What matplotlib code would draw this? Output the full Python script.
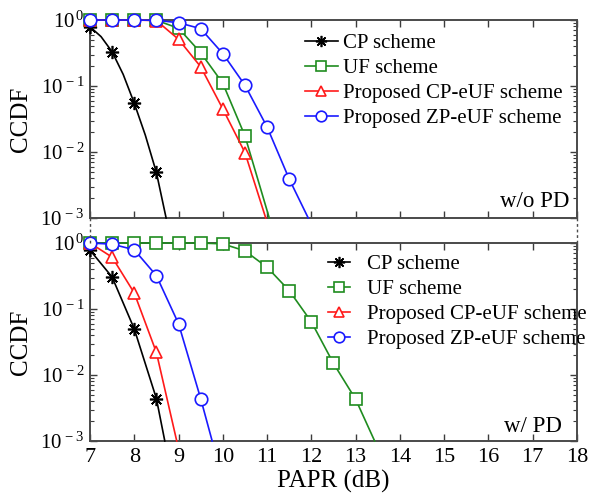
import math
import matplotlib
matplotlib.use("Agg")
import matplotlib.pyplot as plt
from matplotlib.ticker import FixedLocator, LogLocator, NullFormatter, FuncFormatter
from matplotlib.lines import Line2D

plt.rcParams['font.family'] = ['Liberation Serif', 'DejaVu Serif']
plt.rcParams['mathtext.fontset'] = 'custom'
plt.rcParams['mathtext.rm'] = 'Liberation Serif'
plt.rcParams['mathtext.it'] = 'Liberation Serif:italic'

labels = ['CP scheme', 'UF scheme', 'Proposed CP-eUF scheme', 'Proposed ZP-eUF scheme']
colors = ['black', '#1f8c1f', '#ff1a1a', '#1a1aff']
markers = [(8, 2, 0), 's', '^', 'o']

# w/o PD  (last point of each list = where the curve leaves the plot at 1e-3)
cp_x_wo = [7.0, 7.25, 7.5, 7.75, 8.0, 8.25, 8.5, 8.72]
cp_y_wo = [0.79, 0.56, 0.33, 0.15, 0.055, 0.018, 0.0049, 0.001]
cp_mk_wo = [0, 2, 4, 6]
uf_x_wo = [7.0, 7.5, 8.0, 8.5, 9.0, 9.5, 10.0, 10.5, 11.05]
uf_y_wo = [1.0, 1.0, 1.0, 0.99, 0.75, 0.32, 0.11, 0.0176, 0.001]
cpe_x_wo = [7.0, 7.5, 8.0, 8.5, 9.0, 9.5, 10.0, 10.5, 10.97]
cpe_y_wo = [1.0, 1.0, 1.0, 0.98, 0.51, 0.196, 0.045, 0.0098, 0.001]
zpe_x_wo = [7.0, 7.5, 8.0, 8.5, 9.0, 9.5, 10.0, 10.5, 11.0, 11.5, 11.93]
zpe_y_wo = [1.0, 1.0, 1.0, 0.99, 0.91, 0.74, 0.31, 0.103, 0.024, 0.0039, 0.001]

# w/ PD
cp_x_w = [7.0, 7.5, 8.0, 8.5, 8.69]
cp_y_w = [0.78, 0.305, 0.05, 0.0044, 0.001]
uf_x_w = [7.0, 7.5, 8.0, 8.5, 9.0, 9.5, 10.0, 10.5, 11.0, 11.5, 12.0, 12.5, 13.0, 13.43]
uf_y_w = [1.0, 1.0, 1.0, 1.0, 1.0, 1.0, 0.97, 0.76, 0.43, 0.19, 0.064, 0.015, 0.0043, 0.001]
cpe_x_w = [7.0, 7.5, 8.0, 8.5, 8.96]
cpe_y_w = [1.0, 0.61, 0.175, 0.022, 0.001]
zpe_x_w = [7.0, 7.5, 8.0, 8.5, 9.0, 9.5, 9.76]
zpe_y_w = [1.0, 0.96, 0.79, 0.32, 0.06, 0.0044, 0.001]

xticks = list(range(7, 19))


def draw_panel(ax, series, tag, tag_pos, legend_anchor, handlelen, textpad):
    for (x, y, mk_idx), lab, c, m in zip(series, labels, colors, markers):
        if mk_idx is None:
            mk_idx = list(range(len(x) - 1))
        star = m == (8, 2, 0)
        ax.plot(x, y, color=c, lw=1.2, marker=m, markevery=mk_idx,
                ms=9.5 if star else 9, mfc=c if star else 'white',
                mec=c, mew=1.2, label=lab, clip_on=False, zorder=3)
    ax.set_yscale('log')
    ax.set_xlim(7, 18)
    ax.set_ylim(1e-3, 1)
    ax.xaxis.set_major_locator(FixedLocator(xticks))
    ax.yaxis.set_major_locator(FixedLocator([1e-3, 1e-2, 1e-1, 1]))
    ax.yaxis.set_minor_locator(LogLocator(base=10, subs=range(2, 10)))
    ax.yaxis.set_minor_formatter(NullFormatter())
    ax.yaxis.set_major_formatter(FuncFormatter(
        lambda v, p: r'$\mathdefault{10^{\,%d}}$' % round(math.log10(v))))
    ax.tick_params(which='both', direction='in', top=True, right=True, color='#3c3c3c')
    ax.tick_params(axis='x', labelsize=16, pad=5)
    ax.tick_params(axis='y', labelsize=15, pad=4)
    ax.tick_params(which='major', length=5, width=1.0)
    ax.tick_params(which='minor', length=3, width=0.8)
    for s in ax.spines.values():
        s.set_color('#4a4a4a')
        s.set_linewidth(1.4)
    ax.set_ylabel('CCDF', fontsize=18, labelpad=6)
    ax.text(tag_pos[0], tag_pos[1], tag, transform=ax.transAxes, ha='right',
            va='baseline', fontsize=16.5)
    ax.legend(loc='upper left', bbox_to_anchor=legend_anchor, frameon=False,
              fontsize=15, borderpad=0, borderaxespad=0, labelspacing=0.25,
              handlelength=handlelen, handletextpad=textpad, markerscale=0.85)


fig = plt.figure(figsize=(5.9, 4.94), dpi=100)
ax1 = fig.add_axes([0.1525, 0.5587, 0.8254, 0.4008])
ax2 = fig.add_axes([0.1525, 0.1073, 0.8254, 0.4008])

draw_panel(ax1, [(cp_x_wo, cp_y_wo, cp_mk_wo), (uf_x_wo, uf_y_wo, None),
                 (cpe_x_wo, cpe_y_wo, None), (zpe_x_wo, zpe_y_wo, None)],
           'w/o PD', (0.985, 0.056), (0.441, 0.93), 1.6, 0.25)
draw_panel(ax2, [(cp_x_w, cp_y_w, None), (uf_x_w, uf_y_w, None),
                 (cpe_x_w, cpe_y_w, None), (zpe_x_w, zpe_y_w, None)],
           'w/ PD', (0.969, 0.047), (0.489, 0.94), 1.05, 0.8)

ax1.tick_params(labelbottom=False)
ax2.set_xlabel('PAPR (dB)', fontsize=18, labelpad=2)

# dashed joins between the two panels
p1, p2 = ax1.get_position(), ax2.get_position()
for xx in (p1.x0, p1.x1):
    fig.add_artist(Line2D([xx, xx], [p2.y1, p1.y0], transform=fig.transFigure,
                          color='#4a4a4a', lw=1.0, ls=(0, (2, 2))))

fig.savefig('out.png', dpi=100)
